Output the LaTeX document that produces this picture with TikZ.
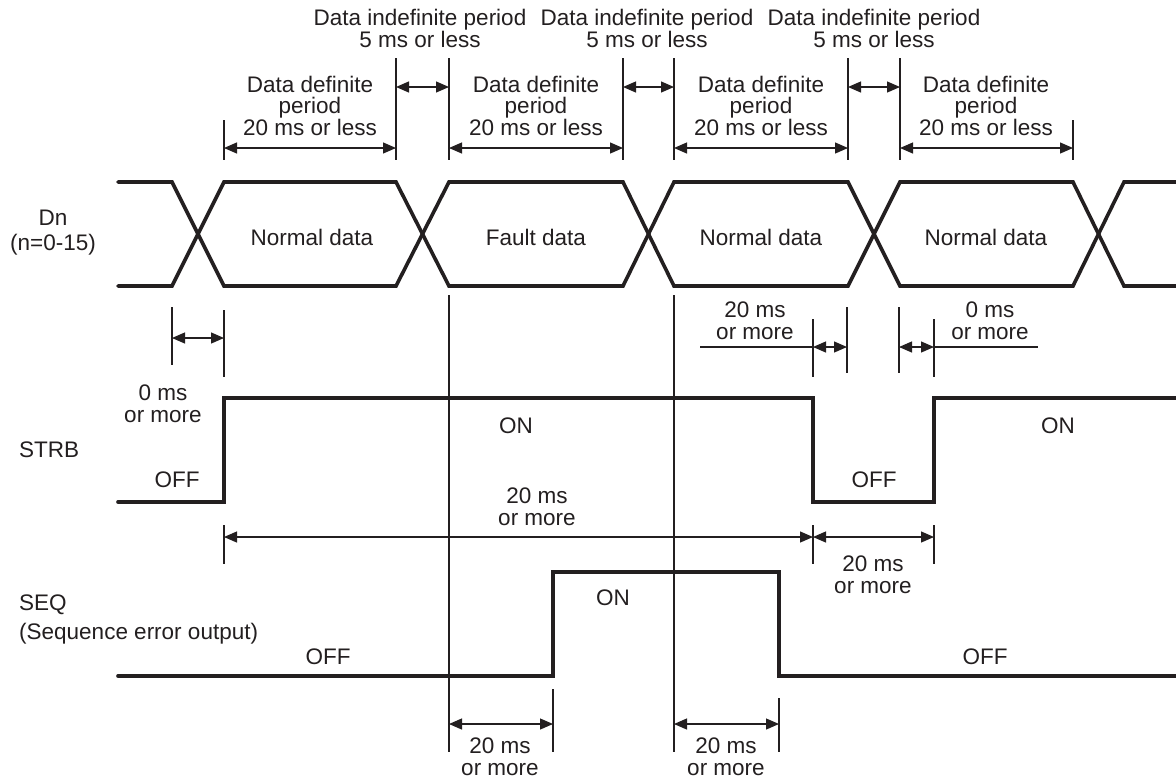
\documentclass[tikz,border=0pt]{standalone}
\usepackage{fontspec}
\setmainfont{Liberation Sans}
\usetikzlibrary{arrows.meta}
\definecolor{ink}{RGB}{35,31,32}
\begin{document}
\begin{tikzpicture}[x=1pt,y=-1pt,
  font=\fontsize{22.5}{21.5}\selectfont,
  sig/.style={draw=ink,line width=3.6pt,line cap=round,line join=miter},
  thin/.style={draw=ink,line width=1.2pt},
  dim/.style={thin,{Triangle[length=13pt,width=11pt]}-{Triangle[length=13pt,width=11pt]}},
  lbl/.style={inner sep=0pt,anchor=base,align=center,text=ink}]
\useasboundingbox (0,0) rectangle (1176,780);
\fill[white] (0,0) rectangle (1176,780);
% ---------- Dn signal ----------
\draw[sig] (118,182) -- (172,182) -- (224,286) -- (396,286) -- (449,182) -- (623,182) -- (674,286) -- (848,286) -- (900,182) -- (1073,182) -- (1124,286) -- (1190,286);
\draw[sig] (118,286) -- (172,286) -- (224,182) -- (396,182) -- (449,286) -- (623,286) -- (674,182) -- (848,182) -- (900,286) -- (1073,286) -- (1124,182) -- (1190,182);
\node[lbl] (dn) at (53,225) {Dn};
\node[lbl] (dnn) at (53,250) {(n=0-15)};
\node[lbl] (nd1) at (312,245) {Normal data};
\node[lbl] (fd) at (536,245) {Fault data};
\node[lbl] (nd2) at (761,245) {Normal data};
\node[lbl] (nd3) at (986,245) {Normal data};
% ---------- top dimension lines ----------
\coordinate (ta1) at (224,148); \coordinate (tb0) at (396,148); \coordinate (tb1) at (449,148);
\coordinate (tc0) at (623,148); \coordinate (tc1) at (674,148); \coordinate (td0) at (848,148);
\coordinate (td1) at (900,148); \coordinate (te0) at (1073,148);
\draw[thin] (224,120) -- (224,160);
\draw[thin] (1073,120) -- (1073,160);
\foreach \xx in {396,449,623,674,848,900} \draw[thin] (\xx,58) -- (\xx,160);
\draw[dim] (ta1) -- (tb0);
\draw[dim] (tb1) -- (tc0);
\draw[dim] (tc1) -- (td0);
\draw[dim] (td1) -- (te0);
\coordinate (ib0) at (396,87); \coordinate (ib1) at (449,87);
\coordinate (ic0) at (623,87); \coordinate (ic1) at (674,87);
\coordinate (id0) at (848,87); \coordinate (id1) at (900,87);
\draw[dim] (ib0) -- (ib1);
\draw[dim] (ic0) -- (ic1);
\draw[dim] (id0) -- (id1);
\node[lbl] (def1) at (310,135) {Data definite\\period\\20 ms or less};
\node[lbl] (def2) at (536,135) {Data definite\\period\\20 ms or less};
\node[lbl] (def3) at (761,135) {Data definite\\period\\20 ms or less};
\node[lbl] (def4) at (986,135) {Data definite\\period\\20 ms or less};
\node[lbl] (ind1) at (420,47) {Data indefinite period\\5 ms or less};
\node[lbl] (ind2) at (647,47) {Data indefinite period\\5 ms or less};
\node[lbl] (ind3) at (874,47) {Data indefinite period\\5 ms or less};
% ---------- middle dimension lines ----------
\draw[thin] (172,307) -- (172,365);
\draw[thin] (224,310) -- (224,377);
\draw[dim] (172,338) -- (224,338);
\node[lbl] (zm1) at (163,422) {0 ms\\or more};
\draw[thin] (813,319) -- (813,377);
\draw[thin] (847,307) -- (847,373);
\draw[thin] (899,307) -- (899,373);
\draw[thin] (934,319) -- (934,377);
\draw[thin] (700,347) -- (813,347);
\draw[thin] (934,347) -- (1038,347);
\draw[dim] (813,347) -- (847,347);
\draw[dim] (899,347) -- (934,347);
\node[lbl] (tm1) at (755,339) {20 ms\\or more};
\node[lbl] (zm2) at (990,339) {0 ms\\or more};
% ---------- STRB ----------
\draw[sig] (118,502) -- (224,502) -- (224,398) -- (813,398) -- (813,502) -- (934,502) -- (934,398) -- (1190,398);
\node[lbl,anchor=base west] (strb) at (19,457) {STRB};
\node[lbl] (soff1) at (177,487) {OFF};
\node[lbl] (son1) at (516,433) {ON};
\node[lbl] (soff2) at (874,487) {OFF};
\node[lbl] (son2) at (1058,433) {ON};
\draw[thin] (224,525) -- (224,564);
\draw[thin] (813,525) -- (813,564);
\draw[thin] (934,525) -- (934,564);
\draw[dim] (224,537) -- (813,537);
\draw[dim] (813,537) -- (934,537);
\node[lbl] (tm2) at (537,525) {20 ms\\or more};
\node[lbl] (tm3) at (873,593) {20 ms\\or more};
% ---------- long vertical lines ----------
\draw[thin] (449,295) -- (449,752);
\draw[thin] (674,295) -- (674,752);
% ---------- SEQ ----------
\draw[sig] (118,676) -- (553,676) -- (553,572) -- (779,572) -- (779,676) -- (1190,676);
\node[lbl,anchor=base west] (seq) at (19,610) {SEQ};
\node[lbl,anchor=base west] (seqd) at (19,639) {(Sequence error output)};
\node[lbl] (qoff1) at (328,664) {OFF};
\node[lbl] (qon) at (613,605) {ON};
\node[lbl] (qoff2) at (985,664) {OFF};
\draw[thin] (553,689) -- (553,752);
\draw[thin] (779,698) -- (779,752);
\draw[dim] (449,724) -- (553,724);
\draw[dim] (674,724) -- (779,724);
\node[lbl] (tm4) at (500,775) {20 ms\\or more};
\node[lbl] (tm5) at (726,775) {20 ms\\or more};
\end{tikzpicture}
\end{document}
